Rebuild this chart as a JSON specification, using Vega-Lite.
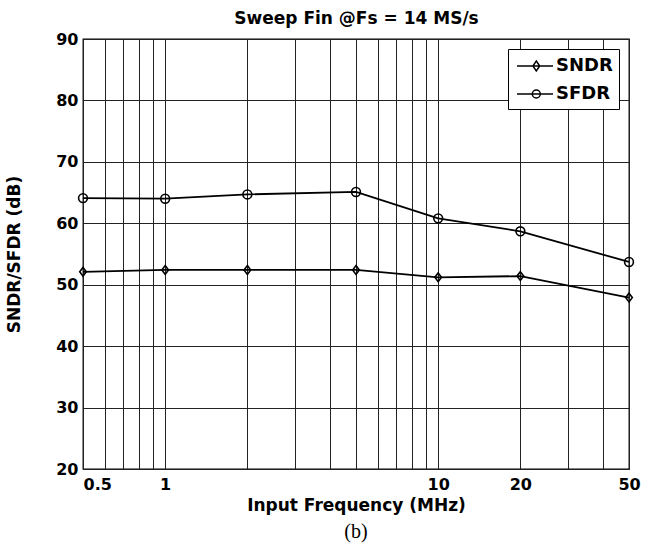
{
  "$schema": "https://vega.github.io/schema/vega-lite/v6.json",
  "autosize": {"type": "none"},
  "width": 546,
  "height": 430,
  "padding": {"left": 83, "top": 39, "right": 22, "bottom": 77},
  "background": "white",
  "config": {
    "font": "DejaVu Sans",
    "view": {"stroke": "black", "strokeWidth": 1.3}
  },
  "title": {"text": "(b)", "orient": "bottom", "font": "Liberation Serif", "fontSize": 20, "fontWeight": "normal", "color": "black", "offset": 9},
  "data": {
    "values": [
      {"f": 0.5, "v": 52.1, "series": "SNDR"},
      {"f": 1, "v": 52.4, "series": "SNDR"},
      {"f": 2, "v": 52.4, "series": "SNDR"},
      {"f": 5, "v": 52.4, "series": "SNDR"},
      {"f": 10, "v": 51.2, "series": "SNDR"},
      {"f": 20, "v": 51.4, "series": "SNDR"},
      {"f": 50, "v": 47.9, "series": "SNDR"},
      {"f": 0.5, "v": 64.1, "series": "SFDR"},
      {"f": 1, "v": 64.0, "series": "SFDR"},
      {"f": 2, "v": 64.7, "series": "SFDR"},
      {"f": 5, "v": 65.1, "series": "SFDR"},
      {"f": 10, "v": 60.8, "series": "SFDR"},
      {"f": 20, "v": 58.7, "series": "SFDR"},
      {"f": 50, "v": 53.7, "series": "SFDR"}
    ]
  },
  "layer": [
    {
      "mark": {"type": "line", "color": "black", "strokeWidth": 1.8},
      "encoding": {
        "x": {
          "field": "f", "type": "quantitative",
          "scale": {"type": "log", "domain": [0.5, 50], "nice": false},
          "axis": {
            "orient": "bottom",
            "values": [0.5, 0.6, 0.7, 0.8, 0.9, 1, 2, 3, 4, 5, 6, 7, 8, 9, 10, 20, 30, 40, 50],
            "labelExpr": "(datum.value == 0.5 || datum.value == 1 || datum.value == 10 || datum.value == 20 || datum.value == 50) ? format(datum.value, '~g') : ''",
            "labelOverlap": false,
            "labelFlush": false,
            "labelAlign": {"condition": {"test": "datum.value == 0.5", "value": "left"}, "value": "center"},
            "labelFont": "DejaVu Sans",
            "labelFontSize": 16,
            "labelFontWeight": "bold",
            "labelColor": "black",
            "labelPadding": 7,
            "ticks": false,
            "domain": false,
            "grid": true,
            "gridColor": "#222",
            "gridOpacity": 1,
            "gridWidth": 1,
            "title": "Input Frequency (MHz)",
            "titleFont": "DejaVu Sans",
            "titleFontSize": 17,
            "titleFontWeight": "bold",
            "titleColor": "black",
            "titlePadding": 5
          }
        },
        "y": {
          "field": "v", "type": "quantitative",
          "scale": {"domain": [20, 90], "nice": false, "zero": false},
          "axis": {
            "values": [20, 30, 40, 50, 60, 70, 80, 90],
            "labelFont": "DejaVu Sans",
            "labelFontSize": 16,
            "labelFontWeight": "bold",
            "labelColor": "black",
            "labelPadding": 5,
            "labelFlush": false,
            "ticks": false,
            "domain": false,
            "grid": true,
            "gridColor": "#222",
            "gridOpacity": 1,
            "gridWidth": 1,
            "title": "SNDR/SFDR (dB)",
            "titleFont": "DejaVu Sans",
            "titleFontSize": 17,
            "titleFontWeight": "bold",
            "titleColor": "black",
            "titlePadding": 32
          }
        },
        "detail": {"field": "series", "type": "nominal"}
      }
    },
    {
      "mark": {"type": "point", "filled": false, "stroke": "black", "strokeWidth": 1.6, "size": 78, "opacity": 1},
      "encoding": {
        "x": {
          "field": "f", "type": "quantitative",
          "scale": {"type": "log", "domain": [0.5, 50], "nice": false},
          "axis": {
            "orient": "top",
            "labels": false,
            "ticks": false,
            "domain": false,
            "grid": false,
            "title": "Sweep Fin @Fs = 14 MS/s",
            "titleFont": "DejaVu Sans",
            "titleFontSize": 17,
            "titleFontWeight": "bold",
            "titleColor": "black",
            "titlePadding": 12
          }
        },
        "y": {"field": "v", "type": "quantitative"},
        "shape": {
          "field": "series", "type": "nominal",
          "scale": {"domain": ["SNDR", "SFDR"], "range": ["M0,-1L0.75,0L0,1L-0.75,0Z", "circle"]},
          "legend": null
        }
      }
    },
    {
      "mark": {"type": "point", "filled": false, "stroke": "black", "strokeWidth": 1.5, "opacity": 0},
      "encoding": {
        "x": {"field": "f", "type": "quantitative", "scale": {"type": "log", "domain": [0.5, 50], "nice": false}, "axis": null},
        "y": {"field": "v", "type": "quantitative"},
        "shape": {
          "field": "series", "type": "nominal",
          "scale": {
            "domain": ["SNDR", "SFDR"],
            "range": [
              "M-0.8,0H2.8M1.13,-0.5L1.47,0L1.13,0.5L0.79,0Z",
              "M-0.8,0H2.8M1.53,0A0.4,0.4 0 1 1 0.73,0A0.4,0.4 0 1 1 1.53,0Z"
            ]
          },
          "legend": {
            "title": null,
            "orient": "top-right",
            "offset": 10,
            "strokeColor": "black",
            "fillColor": "white",
            "padding": 6,
            "labelFont": "DejaVu Sans",
            "labelFontSize": 18,
            "labelFontWeight": "bold",
            "labelColor": "black",
            "labelOffset": 20,
            "symbolSize": 400,
            "symbolOpacity": 1,
            "symbolStrokeColor": "black",
            "symbolStrokeWidth": 1.5,
            "symbolFillColor": "transparent",
            "rowPadding": 8
          }
        }
      }
    }
  ],
  "resolve": {"axis": {"x": "independent"}, "scale": {"shape": "independent"}}
}
